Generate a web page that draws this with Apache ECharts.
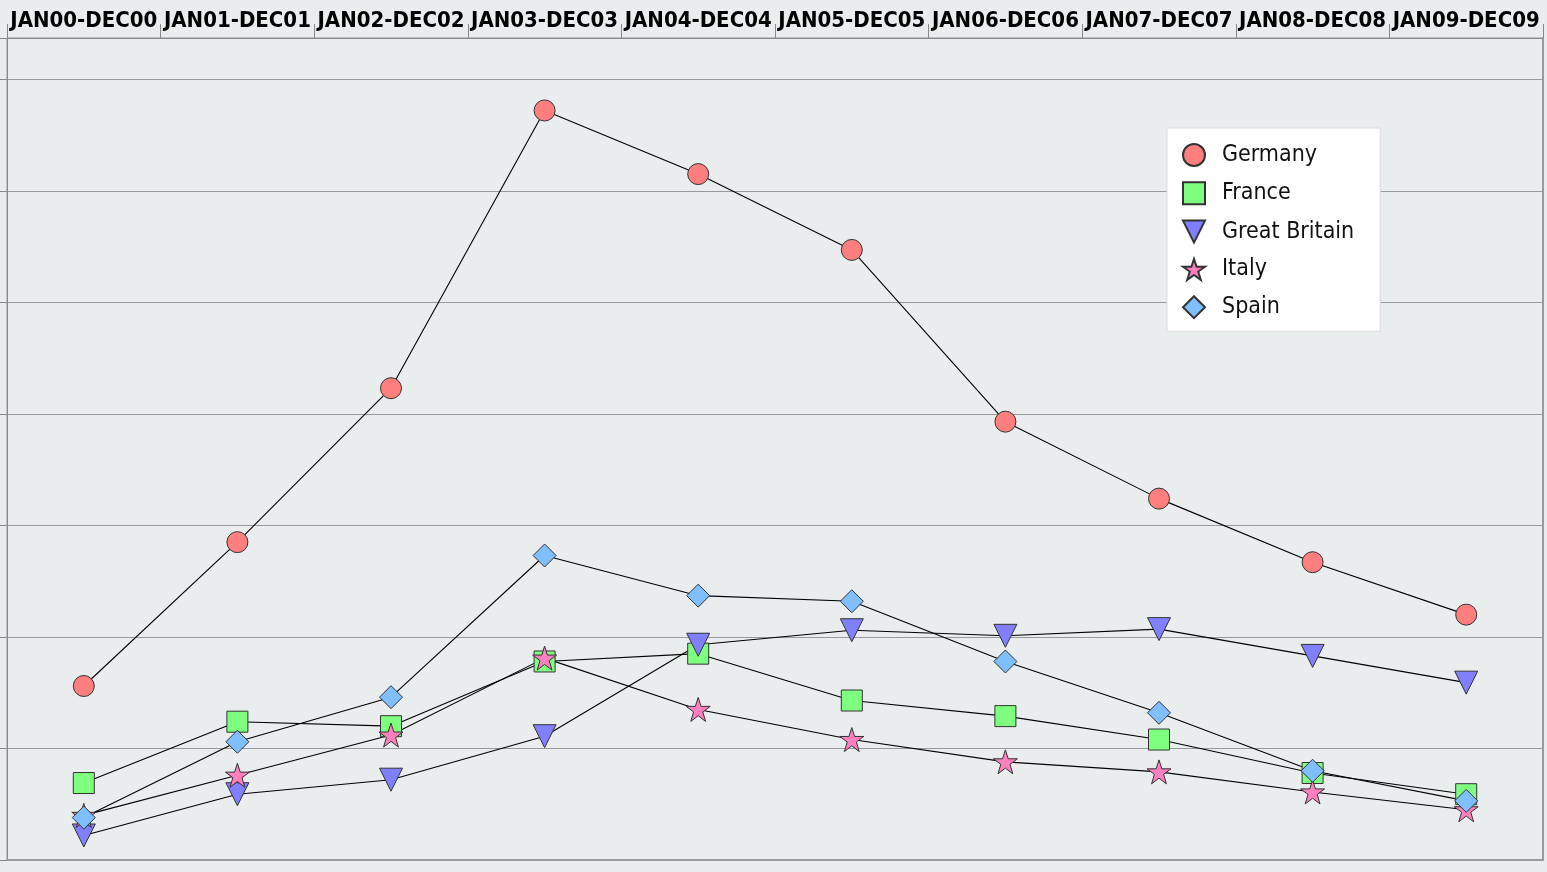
<!DOCTYPE html>
<html>
<head>
<meta charset="utf-8">
<script src="https://cdn.jsdelivr.net/npm/echarts@6/dist/echarts.min.js"></script>
<style>
html,body{margin:0;padding:0;background:#e9edee;}
#chart{width:1547px;height:872px;}
</style>
</head>
<body>
<div id="chart"></div>
<script>
const categories = ['JAN00-DEC00','JAN01-DEC01','JAN02-DEC02','JAN03-DEC03','JAN04-DEC04','JAN05-DEC05','JAN06-DEC06','JAN07-DEC07','JAN08-DEC08','JAN09-DEC09'];
const germany = [1.56, 2.85, 4.23, 6.72, 6.15, 5.47, 3.93, 3.24, 2.67, 2.20];
const france = [0.69, 1.24, 1.20, 1.78, 1.85, 1.43, 1.29, 1.08, 0.78, 0.59];
const greatBritain = [0.22, 0.59, 0.72, 1.11, 1.93, 2.06, 2.01, 2.07, 1.83, 1.59];
const italy = [0.40, 0.76, 1.12, 1.81, 1.35, 1.08, 0.88, 0.79, 0.61, 0.45];
const spain = [0.38, 1.06, 1.46, 2.73, 2.37, 2.32, 1.78, 1.32, 0.80, 0.53];

const FONT = '"DejaVu Sans Condensed", "DejaVu Sans", sans-serif';
const STAR = 'path://M50,0 L61.8,35.4 L100,35.4 L69.1,57.3 L80.9,95.1 L50,72.4 L19.1,95.1 L30.9,57.3 L0,35.4 L38.2,35.4 Z';
const TRI_DOWN = 'path://M0,0 L100,0 L50,100 Z';
const chart = echarts.init(document.getElementById('chart'));

function mk(name, data, symbol, color, size) {
  return {
    name: name,
    type: 'line',
    data: data,
    symbol: symbol,
    symbolSize: size,
    showAllSymbol: true,
    lineStyle: { color: '#000', width: 1.1 },
    itemStyle: { color: color, borderColor: '#333', borderWidth: 1 },
    emphasis: { disabled: true },
    animation: false
  };
}

chart.setOption({
  backgroundColor: '#e9edee',
  animation: false,
  grid: { left: 7, right: 4, top: 38, bottom: 12, show: true, borderColor: '#999', borderWidth: 1, backgroundColor: 'transparent' },
  legend: {
    orient: 'vertical',
    left: 1167,
    top: 128,
    padding: [15, 26, 12, 15],
    itemGap: 14.3,
    itemWidth: 22,
    itemHeight: 22,
    backgroundColor: '#ffffff',
    borderColor: '#dcdcdc',
    borderWidth: 1,
    borderRadius: 0,
    textStyle: { fontFamily: FONT, fontSize: 23, color: '#111', lineHeight: 23, padding: [0, 0, 0, 12] },
    data: [
      { name: 'Germany', icon: 'circle' },
      { name: 'France', icon: 'rect' },
      { name: 'Great Britain', icon: TRI_DOWN },
      { name: 'Italy', icon: STAR },
      { name: 'Spain', icon: 'diamond' }
    ]
  },
  xAxis: [{
    type: 'category',
    position: 'top',
    data: categories,
    boundaryGap: true,
    axisLine: { show: true, onZero: false, lineStyle: { color: '#888', width: 1 } },
    axisTick: { show: true, length: 14, alignWithLabel: false, lineStyle: { color: '#888' } },
    axisLabel: { interval: 0, fontFamily: FONT, fontWeight: 'bold', fontSize: 22, color: '#000', margin: 6 },
    splitLine: { show: false }
  }, {
    type: 'category',
    position: 'bottom',
    data: categories,
    axisLine: { show: true, onZero: false, lineStyle: { color: '#999', width: 2 } },
    axisTick: { show: false },
    axisLabel: { show: false },
    splitLine: { show: false }
  }],
  yAxis: [{
    type: 'value',
    min: 0,
    max: 7.37,
    interval: 1,
    axisLine: { show: true, lineStyle: { color: '#888' } },
    axisTick: { show: true, length: 7, lineStyle: { color: '#888' } },
    axisLabel: { show: false },
    splitLine: { show: true, lineStyle: { color: '#999', width: 1 } }
  }, {
    type: 'value',
    position: 'right',
    min: 0,
    max: 7.37,
    interval: 1,
    axisLine: { show: true, onZero: false, lineStyle: { color: '#999', width: 2 } },
    axisTick: { show: false },
    axisLabel: { show: false },
    splitLine: { show: false }
  }],
  series: [
    mk('Germany', germany, 'circle', '#ff7f7f', 21),
    mk('France', france, 'rect', '#7fff7f', 21),
    mk('Great Britain', greatBritain, TRI_DOWN, '#7f7fff', 23),
    mk('Italy', italy, STAR, '#ff7fbf', 24),
    mk('Spain', spain, 'diamond', '#7fbfff', 23)
  ]
});
</script>
</body>
</html>
